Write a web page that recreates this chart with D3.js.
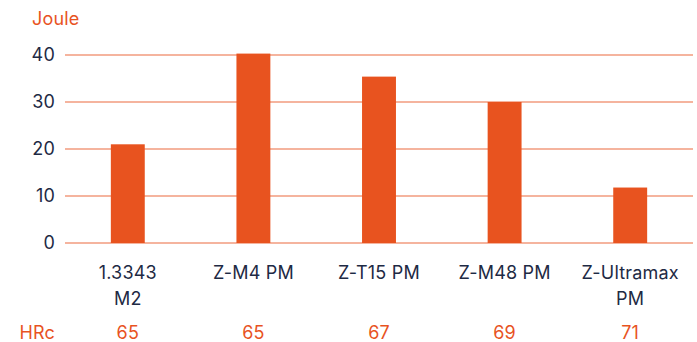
<!DOCTYPE html>
<html>
<head>
<meta charset="utf-8">
<script src="https://cdn.jsdelivr.net/npm/d3@7"></script>
<style>
    body { margin: 0; background: #fff; }
    svg text { font-family: Inter, "Noto Sans", sans-serif; font-size: 18px; letter-spacing: 0.2px; }
</style>
</head>
<body>
<svg id="chart" width="697" height="342"></svg>
<script>
const categories = [["1.3343", "M2"], ["Z-M4 PM"], ["Z-T15 PM"], ["Z-M48 PM"], ["Z-Ultramax", "PM"]];
const joule = [21, 40.3, 35.4, 30, 11.8];
const hrc = [65, 65, 67, 69, 71];
const yTicks = [0, 10, 20, 30, 40];

const orange = "#e8531f";
const navy = "#1e2a44";

const svg = d3.select("#chart");
const plotLeft = 65, plotRight = 693, plotTop = 55, plotBottom = 243;

const x = d3.scaleBand()
    .domain(d3.range(categories.length))
    .range([plotLeft, plotRight])
    .paddingInner(0.73)
    .paddingOuter(0.365);

const y = d3.scaleLinear()
    .domain([0, 40])
    .range([plotBottom, plotTop]);

// gridlines
svg.append("g").selectAll("line")
    .data(yTicks)
    .join("line")
    .attr("x1", plotLeft)
    .attr("x2", plotRight)
    .attr("y1", d => y(d))
    .attr("y2", d => y(d))
    .attr("stroke", "#ec6a3e")
    .attr("stroke-width", 1.2);

// y tick labels
svg.append("g").selectAll("text")
    .data(yTicks)
    .join("text")
    .attr("x", 55)
    .attr("y", d => y(d))
    .attr("dy", "0.36em")
    .attr("text-anchor", "end")
    .attr("fill", navy)
    .text(d => d);

// bars
svg.append("g").selectAll("rect")
    .data(joule)
    .join("rect")
    .attr("x", (d, i) => x(i))
    .attr("width", x.bandwidth())
    .attr("y", d => y(d))
    .attr("height", d => y(0) - y(d))
    .attr("fill", orange);

// category labels
const labels = svg.append("g").selectAll("text")
    .data(categories)
    .join("text")
    .attr("x", (d, i) => x(i) + x.bandwidth() / 2)
    .attr("y", 279)
    .attr("text-anchor", "middle")
    .attr("fill", navy);

labels.selectAll("tspan")
    .data(d => d)
    .join("tspan")
    .attr("x", function() { return d3.select(this.parentNode).attr("x"); })
    .attr("dy", (d, i) => i === 0 ? 0 : 26)
    .text(d => d);

// HRc row
svg.append("text")
    .attr("x", 55)
    .attr("y", 339)
    .attr("text-anchor", "end")
    .attr("fill", orange)
    .text("HRc");

svg.append("g").selectAll("text")
    .data(hrc)
    .join("text")
    .attr("x", (d, i) => x(i) + x.bandwidth() / 2)
    .attr("y", 339)
    .attr("text-anchor", "middle")
    .attr("fill", orange)
    .text(d => d);

// unit label
svg.append("text")
    .attr("x", 32)
    .attr("y", 25)
    .attr("fill", orange)
    .text("Joule");
</script>
</body>
</html>
